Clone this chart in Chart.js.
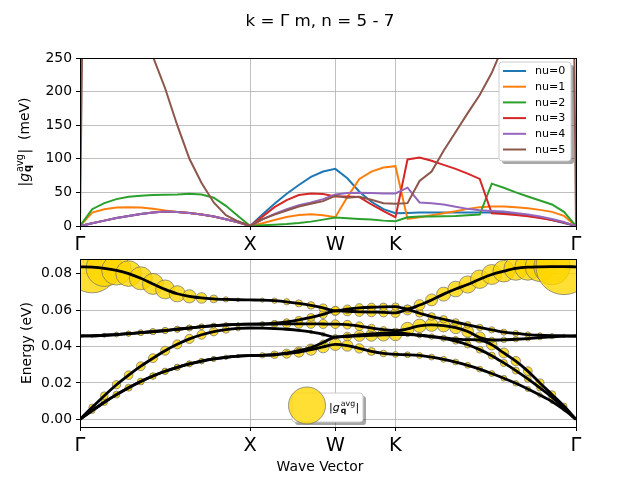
<!DOCTYPE html>
<html><head><meta charset="utf-8">
<script src="https://cdn.jsdelivr.net/npm/chart.js@4.4.1/dist/chart.umd.min.js"></script>
<style>
html,body{margin:0;padding:0;background:#fff;width:640px;height:480px;overflow:hidden}
canvas{position:absolute;left:0;top:0}
</style></head>
<body>
<canvas id="topChart" width="640" height="480"></canvas>
<canvas id="botChart" width="640" height="480"></canvas>
<script>
// ---------- path / tick labels ----------
const pathLabels = ['Γ', 'X', 'W', 'K', 'Γ'];
const segmentLengths = [1.0, 0.5, 0.35355, 1.06066];
const segmentSteps = [14, 7, 5, 15];
const modeNames = ['nu=0', 'nu=1', 'nu=2', 'nu=3', 'nu=4', 'nu=5'];
const modeColors = ['#1f77b4', '#ff7f0e', '#2ca02c', '#d62728', '#9467bd', '#8c564b'];

// ---------- |g| (meV) per mode, one value per q-point ----------
const gNu0 = [0,4,8,12,15,18,20,21.5,21,19.5,17,14,10,5.5,0, 17,33,48,61,73,81,85, 71,51,36,25,19, 19.5,20,20,20,20,20,20,20,19.5,18,15.5,12.5,9,4.5,0];
const gNu1 = [0,20,25,27.5,28,27.5,25.5,23,21,19.5,17,14,10,5.5,0, 4,9,13.5,16.5,17.5,16,13, 43,70,81,87,89, 10.5,13,16,19,22,25.5,28,29,29,28,26.5,24,21,15,0];
const gNu2 = [0,25,34,40,43.5,45,46,46.5,47,48,47,42,30,15,0, 1,2,3,4.5,6.5,9.5,12.5, 11.5,10.5,9.5,8,7, 13,14,14,14.5,15,16,17,63,57,50,44,38,32,21,0];
const gNu3 = [0,4,8,12,15,18,20,21.5,21,19.5,17,14,10,5.5,0, 14,28,38.5,46,48.5,47.5,44, 44,43,32,22,13, 99,102,97,91,85,78,70,19,18,16.5,14.5,12,9,5,0];
const gNu4 = [0,4,8,12,15,18,20,21.5,21,19.5,17,14,10,5.5,0, 10,18,25,31,35,40,47, 49,49.5,49,48.5,48.5, 57,35,34,32,28.5,25.5,23.5,22.5,21.5,19.5,17,14,10.5,6,0];
const gNu5 = [0,1512,756,504,378,302,252,205,150,100,64,35,16,7,0, 10,17,23,29,33,37,45, 42,43.5,39,34,33, 34,67,81,112,140,168,195,228,270,320,390,500,750,1800,0];

// ---------- phonon energies (eV) per band ----------
const eB0 = [0,0.0048,0.0094,0.0136,0.0174,0.0208,0.0238,0.0264,0.0286,0.0305,0.0320,0.0332,0.0341,0.0347,0.0350, 0.0352,0.0355,0.0361,0.0370,0.0383,0.0398,0.0412, 0.0405,0.0390,0.0373,0.0362,0.0357, 0.0355,0.0351,0.0342,0.0330,0.0315,0.0297,0.0276,0.0252,0.0226,0.0198,0.0167,0.0134,0.0098,0.0053,0];
const eB1 = [0,0.0048,0.0094,0.0136,0.0174,0.0208,0.0238,0.0264,0.0286,0.0305,0.0320,0.0332,0.0341,0.0347,0.0350, 0.0352,0.0356,0.0364,0.0377,0.0395,0.0422,0.0452, 0.0455,0.0459,0.0462,0.0464,0.0466, 0.0465,0.0462,0.0455,0.0445,0.0430,0.0410,0.0383,0.0350,0.0310,0.0268,0.0222,0.0173,0.0122,0.0064,0];
const eB2 = [0,0.0066,0.0130,0.0190,0.0243,0.0292,0.0336,0.0377,0.0412,0.0442,0.0465,0.0482,0.0493,0.0500,0.0502, 0.0501,0.0499,0.0495,0.0489,0.0480,0.0467,0.0452, 0.0458,0.0464,0.0469,0.0473,0.0476, 0.0470,0.0462,0.0455,0.0448,0.0442,0.0438,0.0436,0.0410,0.0365,0.0320,0.0265,0.0200,0.0137,0.0073,0];
const eB3 = [0.0458,0.0459,0.0462,0.0466,0.0471,0.0476,0.0482,0.0488,0.0495,0.0502,0.0509,0.0515,0.0519,0.0522,0.0523, 0.0523,0.0524,0.0525,0.0525,0.0525,0.0524,0.0523, 0.0520,0.0512,0.0502,0.0493,0.0487, 0.0497,0.0514,0.0519,0.0515,0.0504,0.0483,0.0450,0.0436,0.0437,0.0440,0.0444,0.0449,0.0453,0.0457,0.0458];
const eB4 = [0.0458,0.0459,0.0462,0.0466,0.0471,0.0476,0.0482,0.0488,0.0495,0.0502,0.0509,0.0515,0.0519,0.0522,0.0523, 0.0524,0.0528,0.0535,0.0546,0.0560,0.0577,0.0596, 0.0594,0.0591,0.0589,0.0588,0.0585, 0.0601,0.0583,0.0565,0.0550,0.0534,0.0519,0.0505,0.0492,0.0479,0.0472,0.0466,0.0462,0.0460,0.0459,0.0458];
const eB5 = [0.0838,0.0836,0.0830,0.0819,0.0801,0.0775,0.0744,0.0714,0.0690,0.0676,0.0667,0.0662,0.0659,0.0657,0.0656, 0.0655,0.0652,0.0646,0.0637,0.0626,0.0612,0.0596, 0.0605,0.0612,0.0616,0.0618,0.0619, 0.0607,0.0628,0.0656,0.0688,0.0716,0.0741,0.0770,0.0796,0.0814,0.0829,0.0836,0.0838,0.0839,0.0839,0.0838];

const gTicks = [0, 50, 100, 150, 200, 250];
const eTicks = [0, 0.02, 0.04, 0.06, 0.08];

// ---------- derived ----------
const gModes = [gNu0, gNu1, gNu2, gNu3, gNu4, gNu5];
const energyBands = [eB0, eB1, eB2, eB3, eB4, eB5];
const qPos = [0], tickPos = [0];
let qAcc = 0;
segmentLengths.forEach((L, s) => {
  for (let k = 1; k <= segmentSteps[s]; k++) qPos.push(qAcc + L * k / segmentSteps[s]);
  qAcc += L; tickPos.push(qAcc);
});
const qTotal = qAcc;

const FONT = 'DejaVu Sans';
Chart.defaults.font.family = FONT;
Chart.defaults.color = '#000';

function xAxis() {
  return {
    type: 'linear', min: 0, max: qTotal,
    afterBuildTicks: s => { s.ticks = tickPos.map(v => ({ value: v })); },
    afterFit: s => { s.height = 40; },
    ticks: { font: { family: FONT, size: 19.4 }, color: '#000', padding: 3, maxRotation: 0, autoSkip: false,
             callback: (v, i) => pathLabels[i] },
    grid: { color: '#b0b0b0', lineWidth: 0.8, tickLength: 4, tickColor: '#000', tickWidth: 1 },
    border: { display: false }
  };
}
function yAxis(ticksArr, min, max, fmt) {
  return {
    type: 'linear', min, max,
    afterBuildTicks: s => { s.ticks = ticksArr.map(v => ({ value: v })); },
    afterFit: s => { s.width = 80; },
    ticks: { font: { family: FONT, size: 13.9 }, color: '#000', padding: 4, callback: fmt },
    grid: { color: '#b0b0b0', lineWidth: 0.8, tickLength: 4, tickColor: '#000', tickWidth: 1 },
    border: { display: false }
  };
}

// math-like label |g^avg_q|
function gParts(s, extra) {
  const p = [
    { t: '|', font: `${s}px "${FONT}"` },
    { t: 'g', font: `italic ${s}px "${FONT}"` },
    { sup: 'avg', sub: 'q', supFont: `${s * 0.7}px "${FONT}"`, subFont: `bold ${s * 0.7}px "${FONT}"` },
    { t: '|', font: `${s}px "${FONT}"` }
  ];
  if (extra) p.push({ t: extra, font: `${s}px "${FONT}"` });
  return p;
}
function measureParts(ctx, parts) {
  let w = 0;
  parts.forEach(p => {
    if (p.t !== undefined) { ctx.font = p.font; p.w = ctx.measureText(p.t).width; }
    else { ctx.font = p.supFont; const a = ctx.measureText(p.sup).width; ctx.font = p.subFont; const b = ctx.measureText(p.sub).width; p.w = Math.max(a, b) + 1.5; }
    w += p.w;
  });
  return w;
}
function drawParts(ctx, parts, x, y, s) {
  ctx.textAlign = 'left'; ctx.textBaseline = 'alphabetic'; ctx.fillStyle = '#000';
  parts.forEach(p => {
    if (p.t !== undefined) { ctx.font = p.font; ctx.fillText(p.t, x, y); }
    else { ctx.font = p.supFont; ctx.fillText(p.sup, x + 1, y - 0.42 * s); ctx.font = p.subFont; ctx.fillText(p.sub, x + 1, y + 0.2 * s); }
    x += p.w;
  });
}
function roundRect(ctx, x, y, w, h, r) {
  ctx.beginPath();
  ctx.moveTo(x + r, y); ctx.lineTo(x + w - r, y); ctx.quadraticCurveTo(x + w, y, x + w, y + r);
  ctx.lineTo(x + w, y + h - r); ctx.quadraticCurveTo(x + w, y + h, x + w - r, y + h);
  ctx.lineTo(x + r, y + h); ctx.quadraticCurveTo(x, y + h, x, y + h - r);
  ctx.lineTo(x, y + r); ctx.quadraticCurveTo(x, y, x + r, y); ctx.closePath();
}
function legendBox(ctx, x, y, w, h) {
  ctx.save();
  roundRect(ctx, x + 3, y + 3, w, h, 3); ctx.fillStyle = 'rgba(0,0,0,0.35)'; ctx.fill();
  roundRect(ctx, x, y, w, h, 3); ctx.fillStyle = '#fff'; ctx.fill();
  ctx.strokeStyle = '#cccccc'; ctx.lineWidth = 1; ctx.stroke();
  ctx.restore();
}
function frame(chart) {
  const a = chart.chartArea, ctx = chart.ctx;
  ctx.save(); ctx.strokeStyle = '#000'; ctx.lineWidth = 1;
  ctx.strokeRect(Math.round(a.left) + 0.5, Math.round(a.top) + 0.5, Math.round(a.right - a.left), Math.round(a.bottom - a.top));
  ctx.restore();
}

const topDecor = {
  id: 'topDecor',
  afterDraw(chart) {
    const ctx = chart.ctx;
    frame(chart);
    ctx.save();
    // suptitle
    ctx.font = `16.7px "${FONT}"`; ctx.fillStyle = '#000'; ctx.textAlign = 'center'; ctx.textBaseline = 'alphabetic';
    ctx.fillText('k = Γ m, n = 5 - 7', 320, 26);
    // y label (rotated)
    const s = 13.9, parts = gParts(s, '  (meV)');
    const w = measureParts(ctx, parts);
    ctx.translate(28.5, (chart.chartArea.top + chart.chartArea.bottom) / 2);
    ctx.rotate(-Math.PI / 2);
    drawParts(ctx, parts, -w / 2, 0, s);
    ctx.restore();
    // legend
    ctx.save();
    legendBox(ctx, 499, 62, 72, 99);
    ctx.font = `11.1px "${FONT}"`; ctx.textBaseline = 'middle'; ctx.textAlign = 'left';
    modeNames.forEach((n, i) => {
      const yy = 71 + i * 15.7;
      ctx.strokeStyle = modeColors[i]; ctx.lineWidth = 2;
      ctx.beginPath(); ctx.moveTo(503, yy); ctx.lineTo(526, yy); ctx.stroke();
      ctx.fillStyle = '#000'; ctx.fillText(n, 535, yy + 0.5);
    });
    ctx.restore();
  }
};

const botDecor = {
  id: 'botDecor',
  afterDraw(chart) {
    const ctx = chart.ctx;
    frame(chart);
    ctx.save();
    ctx.font = `13.9px "${FONT}"`; ctx.fillStyle = '#000'; ctx.textAlign = 'center'; ctx.textBaseline = 'alphabetic';
    ctx.fillText('Wave Vector', 320, 471);
    ctx.translate(31, (chart.chartArea.top + chart.chartArea.bottom) / 2);
    ctx.rotate(-Math.PI / 2);
    ctx.fillText('Energy (eV)', 0, 0);
    ctx.restore();
    // legend
    ctx.save();
    legendBox(ctx, 292, 393, 71, 29);
    ctx.beginPath(); ctx.arc(307, 405.5, 18.5, 0, Math.PI * 2);
    ctx.fillStyle = 'rgba(255,215,0,0.8)'; ctx.fill();
    ctx.strokeStyle = 'rgba(110,110,110,0.7)'; ctx.lineWidth = 1; ctx.stroke();
    const s = 11.1, parts = gParts(s);
    measureParts(ctx, parts);
    drawParts(ctx, parts, 329, 411, s);
    ctx.restore();
  }
};

const common = {
  responsive: false, animation: false, devicePixelRatio: 1, events: [],
  plugins: { legend: { display: false }, tooltip: { enabled: false }, title: { display: false } }
};

// ---------- top chart ----------
new Chart(document.getElementById('topChart'), {
  type: 'line',
  data: {
    datasets: gModes.map((g, nu) => ({
      label: modeNames[nu],
      data: qPos.map((q, i) => ({ x: q, y: g[i] })),
      borderColor: modeColors[nu], backgroundColor: modeColors[nu],
      borderWidth: 2, pointRadius: 0, tension: 0, order: 5 - nu, clip: 0
    }))
  },
  options: Object.assign({}, common, {
    layout: { padding: { left: 0, right: 64, top: 58, bottom: 480 - 226 - 40 } },
    scales: { x: xAxis(), y: yAxis(gTicks, 0, 250, v => String(v)) }
  }),
  plugins: [topDecor]
});

// ---------- bottom chart ----------
const radiusOf = g => 0.66 * Math.sqrt(Math.max(g, 0));
const markerSets = energyBands.map((e, b) => ({
  type: 'scatter',
  data: qPos.map((q, i) => ({ x: q, y: e[i] })),
  pointRadius: ctx => radiusOf(gModes[b][ctx.dataIndex]),
  pointBackgroundColor: 'rgba(255,215,0,0.8)',
  pointBorderColor: 'rgba(110,110,110,0.7)',
  pointBorderWidth: 1,
  showLine: false, order: 6 - b, clip: 0
}));
const lineSets = energyBands.map(e => ({
  type: 'line',
  data: qPos.map((q, i) => ({ x: q, y: e[i] })),
  borderColor: '#000', borderWidth: 2.8, pointRadius: 0,
  cubicInterpolationMode: 'monotone', order: 0, clip: 0
}));
new Chart(document.getElementById('botChart'), {
  type: 'scatter',
  data: { datasets: markerSets.concat(lineSets) },
  options: Object.assign({}, common, {
    layout: { padding: { left: 0, right: 64, top: 259, bottom: 480 - 427 - 40 } },
    scales: { x: xAxis(), y: yAxis(eTicks, -0.0042, 0.0881, v => v.toFixed(2)) }
  }),
  plugins: [botDecor]
});
</script>
</body></html>
